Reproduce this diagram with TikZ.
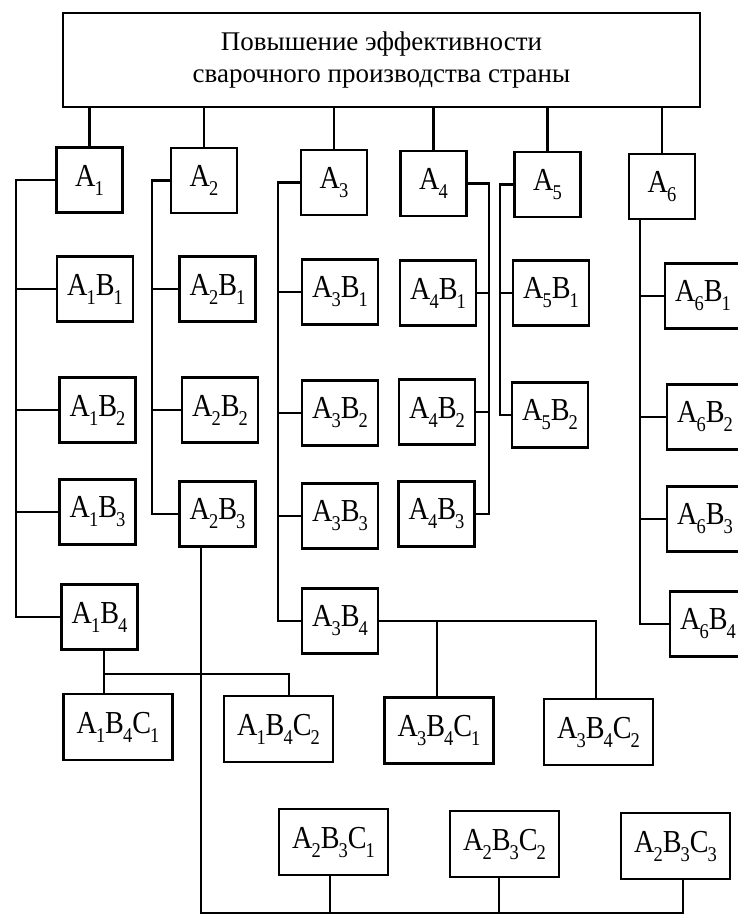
\documentclass[tikz,border=0pt]{standalone}
\usepackage{fontspec}
\setmainfont{Liberation Serif}
\newfontfamily\boxfont[FakeStretch=0.88]{Liberation Serif}
\usetikzlibrary{positioning,calc}
\newcommand{\ix}[1]{\kern-0.03em\raisebox{-9pt}{\fontsize{21}{21}\selectfont #1}}
\tikzset{
  box/.style={draw,line width=2.6pt,inner sep=0pt,align=center,font=\boxfont\fontsize{32}{32}\selectfont},
  abox/.style={box,minimum width=66pt,minimum height=65pt},
  bbox/.style={box,minimum width=76pt,minimum height=65pt},
  cbox/.style={box,minimum width=109pt,minimum height=66pt},
  link/.style={line width=2.6pt}
}
\begin{document}
\begin{tikzpicture}[x=1pt,y=-1pt]
  \useasboundingbox (0,0) rectangle (737,915);
  % Goal
  \node[draw,line width=2.6pt,minimum width=637pt,minimum height=94pt,align=center,
    font=\fontsize{27}{32}\selectfont] (goal) at (381.5,60)
    {Повышение эффективности\\сварочного производства страны};
  % First level
  \node[abox] (A1) at (89.5,180) {A\ix{1}};
  \node[abox] (A2) at (204,180.5) {A\ix{2}};
  \node[abox] (A3) at (334,182.5) {A\ix{3}};
  \node[abox] (A4) at (433.5,183.5) {A\ix{4}};
  \node[abox] (A5) at (547.5,184.5) {A\ix{5}};
  \node[abox] (A6) at (662,186.5) {A\ix{6}};
  \foreach \i in {1,...,6}
    \draw[link] (A\i.north) -- (A\i.north |- goal.south);
  % Second level
  \node[bbox] (A1B1) at (95,289) {A\ix{1}B\ix{1}};
  \node[bbox] (A1B2) at (97.5,410) {A\ix{1}B\ix{2}};
  \node[bbox] (A1B3) at (97.5,512) {A\ix{1}B\ix{3}};
  \node[bbox] (A1B4) at (99.5,617) {A\ix{1}B\ix{4}};
  \node[bbox] (A2B1) at (217.5,289) {A\ix{2}B\ix{1}};
  \node[bbox] (A2B2) at (220,410) {A\ix{2}B\ix{2}};
  \node[bbox] (A2B3) at (217.5,514) {A\ix{2}B\ix{3}};
  \node[bbox] (A3B1) at (340,292) {A\ix{3}B\ix{1}};
  \node[bbox] (A3B2) at (340,413) {A\ix{3}B\ix{2}};
  \node[bbox] (A3B3) at (340,516) {A\ix{3}B\ix{3}};
  \node[bbox] (A3B4) at (340,621) {A\ix{3}B\ix{4}};
  \node[bbox] (A4B1) at (438,293) {A\ix{4}B\ix{1}};
  \node[bbox] (A4B2) at (437,412) {A\ix{4}B\ix{2}};
  \node[bbox] (A4B3) at (436.5,514) {A\ix{4}B\ix{3}};
  \node[bbox] (A5B1) at (551,293) {A\ix{5}B\ix{1}};
  \node[bbox] (A5B2) at (550,415) {A\ix{5}B\ix{2}};
  \node[bbox] (A6B1) at (703,296) {A\ix{6}B\ix{1}};
  \node[bbox] (A6B2) at (705,417) {A\ix{6}B\ix{2}};
  \node[bbox] (A6B3) at (705,519) {A\ix{6}B\ix{3}};
  \node[bbox] (A6B4) at (708,624) {A\ix{6}B\ix{4}};
  % Trunks
  \coordinate (t1) at (16,180);
  \coordinate (t2) at (152,180);
  \coordinate (t3) at (278,184);
  \coordinate (t4) at (489,184);
  \coordinate (t5) at (500,185);
  \coordinate (t6) at (640,220);
  \draw[link] (A1.west) -- (t1 |- A1.west) |- (A1B4.west);
  \draw[link] (A2.west) -- (t2 |- A2.west) |- (A2B3.west);
  \draw[link] (A3.west) -- (t3 |- A3.west) |- (A3B4.west);
  \draw[link] (A4.east) -- (t4 |- A4.east) |- (A4B3.east);
  \draw[link] (A5.west) -- (t5 |- A5.west) |- (A5B2.west);
  \draw[link] (A6.south -| t6) |- (A6B4.west);
  \foreach \j in {1,2,3} {
    \draw[link] (A1B\j.west) -- (A1B\j.west -| t1);
    \draw[link] (A3B\j.west) -- (A3B\j.west -| t3);
    \draw[link] (A6B\j.west) -- (A6B\j.west -| t6);
  }
  \foreach \j in {1,2} {
    \draw[link] (A2B\j.west) -- (A2B\j.west -| t2);
    \draw[link] (A4B\j.east) -- (A4B\j.east -| t4);
  }
  \draw[link] (A5B1.west) -- (A5B1.west -| t5);
  % Third level
  \node[cbox] (A1B4C1) at (118,727) {A\ix{1}B\ix{4}C\ix{1}};
  \node[cbox] (A1B4C2) at (278.5,729) {A\ix{1}B\ix{4}C\ix{2}};
  \node[cbox] (A3B4C1) at (439,730.5) {A\ix{3}B\ix{4}C\ix{1}};
  \node[cbox] (A3B4C2) at (598.5,732) {A\ix{3}B\ix{4}C\ix{2}};
  \node[cbox] (A2B3C1) at (333.5,842) {A\ix{2}B\ix{3}C\ix{1}};
  \node[cbox] (A2B3C2) at (504.5,844) {A\ix{2}B\ix{3}C\ix{2}};
  \node[cbox] (A2B3C3) at (675.5,846) {A\ix{2}B\ix{3}C\ix{3}};
  % A1B4 children
  \coordinate (j1) at (104,674);
  \coordinate (j2) at (289,674);
  \draw[link] (A1B4.south -| j1) -- (j1 |- A1B4C1.north);
  \draw[link] (j1) -- (j2) -- (j2 |- A1B4C2.north);
  % A3B4 children
  \coordinate (k1) at (437,621);
  \coordinate (k2) at (596,621);
  \draw[link] (A3B4.east) -- (k2) -- (k2 |- A3B4C2.north);
  \draw[link] (k1) -- (k1 |- A3B4C1.north);
  % A2B3 children
  \coordinate (m0) at (201,913);
  \coordinate (m1) at (330,913);
  \coordinate (m2) at (499,913);
  \coordinate (m3) at (683,913);
  \draw[link] (A2B3.south -| m0) -- (m0) -- (m3) -- (m3 |- A2B3C3.south);
  \draw[link] (m1) -- (m1 |- A2B3C1.south);
  \draw[link] (m2) -- (m2 |- A2B3C2.south);
\end{tikzpicture}
\end{document}
